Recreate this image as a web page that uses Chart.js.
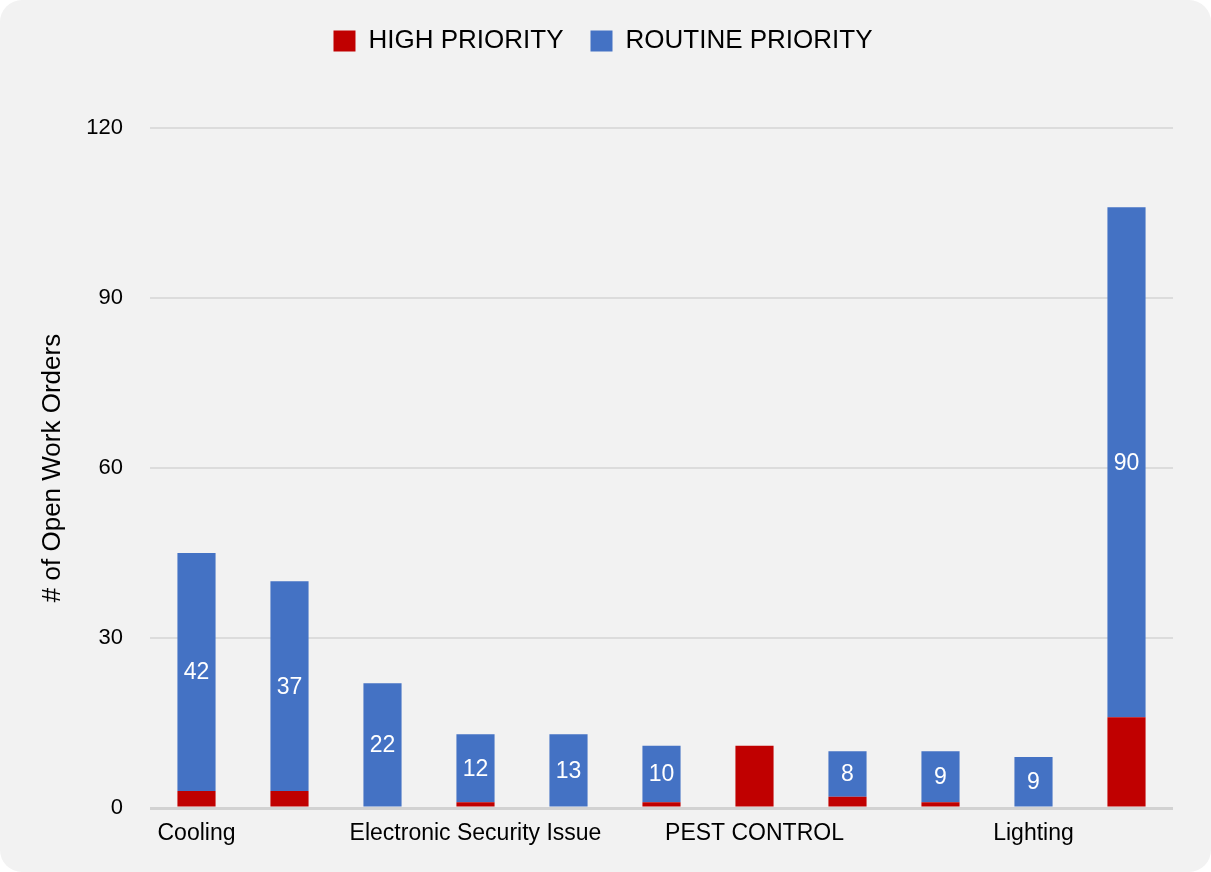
<!DOCTYPE html>
<html><head><meta charset="utf-8">
<script src="https://cdn.jsdelivr.net/npm/chart.js@4/dist/chart.umd.min.js"></script>
<style>
html,body{margin:0;padding:0;background:#fff;}
#wrap{position:absolute;left:0;top:0;width:1211px;height:872px;background:#f2f2f2;border-radius:22px;overflow:hidden;}
canvas{display:block;}
</style></head>
<body><div id="wrap"><canvas id="c" width="1211" height="872"></canvas></div>
<script>
const categories = ["Cooling", "", "", "Electronic Security Issue", "", "", "PEST CONTROL", "", "", "Lighting", ""];
const highPriority = [3, 3, 0, 1, 0, 1, 11, 2, 1, 0, 16];
const routinePriority = [42, 37, 22, 12, 13, 10, 0, 8, 9, 9, 90];
const yTicks = [0, 30, 60, 90, 120];

const FONT = "'Liberation Sans', Arial, Helvetica, sans-serif";

const valueLabels = {
  id: 'valueLabels',
  afterDatasetsDraw(chart) {
    const ctx = chart.ctx;
    const meta = chart.getDatasetMeta(1);
    ctx.save();
    ctx.fillStyle = '#ffffff';
    ctx.font = '23px ' + FONT;
    ctx.textAlign = 'center';
    ctx.textBaseline = 'middle';
    meta.data.forEach((el, i) => {
      const v = routinePriority[i];
      if (!v) return;
      ctx.fillText(String(v), el.x, (el.y + el.base) / 2 + 1);
    });
    ctx.restore();
  }
};

const legendSpacer = {
  id: 'legendSpacer',
  beforeInit(chart) {
    const origFit = chart.legend.fit;
    chart.legend.fit = function () {
      origFit.bind(chart.legend)();
      this.height += 64;
    };
  }
};

new Chart(document.getElementById('c'), {
  type: 'bar',
  data: {
    labels: categories,
    datasets: [
      { label: 'HIGH PRIORITY', data: highPriority, backgroundColor: '#c00000', barPercentage: 0.82, categoryPercentage: 0.5 },
      { label: 'ROUTINE PRIORITY', data: routinePriority, backgroundColor: '#4472c4', barPercentage: 0.82, categoryPercentage: 0.5 }
    ]
  },
  options: {
    responsive: false,
    animation: false,
    layout: { padding: { left: 33, right: 38, top: 1, bottom: 20 } },
    plugins: {
      legend: {
        position: 'top',
        labels: { boxWidth: 22, boxHeight: 21, padding: 27, color: '#000', font: { size: 26, family: FONT } }
      },
      tooltip: { enabled: false }
    },
    scales: {
      x: {
        stacked: true,
        grid: { display: false },
        border: { display: false },
        ticks: { color: '#000', font: { size: 23, family: FONT }, autoSkip: false, maxRotation: 0, minRotation: 0, padding: 4 },
        afterFit(scale) { scale.height = 44; }
      },
      y: {
        stacked: true,
        min: 0, max: 120,
        afterBuildTicks(scale) { scale.ticks = yTicks.map(v => ({ value: v })); },
        afterFit(scale) { scale.width = 117; },
        grid: {
          color: ctx => (ctx.tick && ctx.tick.value === 0) ? '#d2d2d2' : '#dcdcdc',
          lineWidth: ctx => (ctx.tick && ctx.tick.value === 0) ? 3 : 2,
          drawTicks: false
        },
        border: { display: false },
        ticks: { color: '#000', font: { size: 22, family: FONT }, padding: 27 },
        title: { display: true, text: '# of Open Work Orders', color: '#000', font: { size: 26, family: FONT }, padding: { top: 4, bottom: 18 } }
      }
    }
  },
  plugins: [valueLabels, legendSpacer]
});
</script></body></html>
